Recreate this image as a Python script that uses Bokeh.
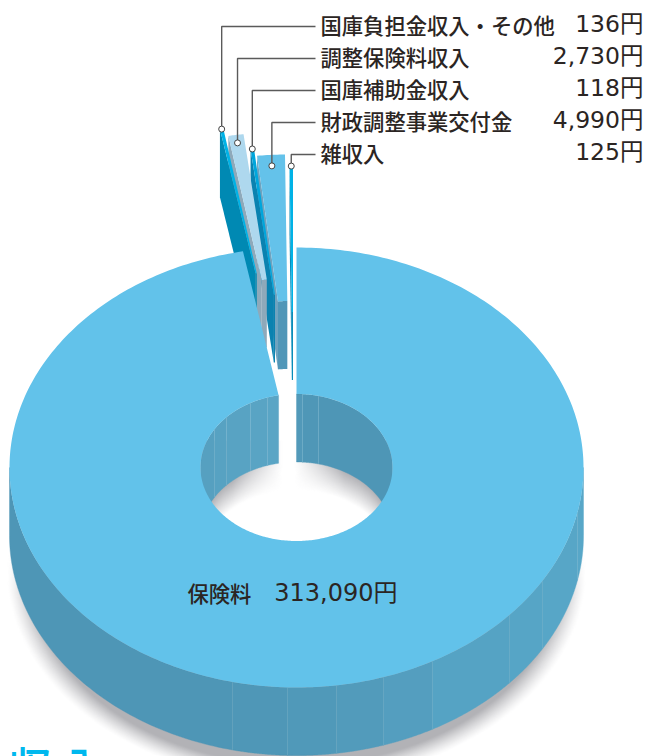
import numpy as np
from bokeh.plotting import figure
from bokeh.models import Range1d
from bokeh.embed import file_html
from bokeh.resources import INLINE
from bokeh.core.properties import value

# ---- data ----
main_name = "保険料"
main_value = 313090
main_label = "313,090円"
names = ["国庫負担金収入・その他", "調整保険料収入", "国庫補助金収入", "財政調整事業交付金", "雑収入"]
values = [136, 2730, 118, 4990, 125]
value_labels = ["136円", "2,730円", "118円", "4,990円", "125円"]
title_text = "収 入"

# ---- layout / style ----
W, H = 645, 756
CX, CY, RX, RY = 296.0, 467.0, 287.0, 220.0
IRX, IRY = 96.0, 73.5
DEPTH = 68.0
MIN_SPAN = 0.7
explode_dx = [-23, -18, -11, -8, -3.5]
explode_dy = [-122, -115, -100, -93, -82]
dot_frac = [0.0, 0.055, 0.0, 0.075, 0.004]
top_colors = ["#00b2e6", "#aed8ee", "#00a6dc", "#64c2ea", "#00b2e6"]
face_colors = ["#0089b3", "#8ea9ba", "#0a82b0", "#6fa3bf", "#0a8cb8"]
inner_colors = ["#0089b3", "#8ea9ba", "#0a82b0", "#5197b8", "#0a8cb8"]
TOP = "#62c2ea"
seams_outer = [232, 287, 336, 383, 432, 509, 542, 577]
colors_outer = ["#4e96b6", "#4f97b7", "#5099b9", "#529bbb", "#549ebf", "#55a3c4", "#56a5c6", "#57a6c7", "#58a7c8"]
seams_hole_l = [214, 226, 250, 267]
colors_hole_l = ["#56a0c0", "#57a2c2", "#58a3c3", "#59a4c4", "#5aa5c5"]
seams_hole_r = [302, 318]
colors_hole_r = ["#5299b9", "#4f97b7", "#4e96b6"]
LABEL_COLOR = "#2b2523"
JP = "Noto Sans CJK JP Medium, Noto Sans CJK JP"
NUM = "DejaVu Sans, Noto Sans CJK JP"

spans = [max(v / (main_value + sum(values)) * 360, MIN_SPAN) for v in values]
gap = sum(spans)


def pt(deg, rx, ry, dx=0.0, dy=0.0):
    a = np.radians(deg)
    return CX + dx + rx * np.sin(a), CY + dy - ry * np.cos(a)


p = figure(width=W, height=H, x_range=Range1d(0, W), y_range=Range1d(H, 0),
           toolbar_location=None, output_backend="svg", min_border=0)
p.xaxis.visible = False
p.yaxis.visible = False
p.xgrid.visible = False
p.ygrid.visible = False
p.outline_line_color = None
p.background_fill_color = "white"
p.border_fill_color = "white"

# soft shadows under the ring and on the floor of the hole
px, py = np.meshgrid(np.arange(W) + 0.5, np.arange(H) + 0.5)
e = np.sqrt(((px - CX) / RX) ** 2 + ((py - 570.0) / 210.0) ** 2)
a_out = np.clip((1.01 - e) / 0.085, 0, 1) ** 1.3 * np.clip((py - 540) / 50, 0, 1)
u = np.clip((px - CX) / IRX, -1, 1)
upper = CY - IRY * np.sqrt(1 - u ** 2)
s = py - upper
h = np.clip((np.abs(px - 288) - 6) / 50, 0, 1)
a_in = np.clip(1 - (s - DEPTH) / 28.5, 0, 1) * h * (np.abs(px - CX) < IRX) * (py > 440) * (py < 560)
alpha = np.maximum(a_out, a_in)
img = np.zeros((H, W, 4), dtype=np.uint8)
img[..., 0] = 178
img[..., 1] = 178
img[..., 2] = 182
img[..., 3] = (alpha * 255).astype(np.uint8)
view = img[..., 0].astype(np.uint32) | img[..., 1].astype(np.uint32) << 8 | img[..., 2].astype(np.uint32) << 16 | img[..., 3].astype(np.uint32) << 24
p.image_rgba(image=[view], x=0, y=0, dw=W, dh=H)


def wall_strip(x0, x1, rx, ry, sign, n=40):
    """Curved strip of a ring wall between two x positions; sign=+1 front half, -1 back half."""
    t0, t1 = np.arcsin(np.clip((np.array([x0, x1]) - CX) / rx, -1, 1))
    t = np.linspace(t0, t1, n)
    xx = CX + rx * np.sin(t)
    yy = CY + sign * ry * np.cos(t)
    return list(xx) + list(xx[::-1]), list(yy) + list((yy + DEPTH)[::-1])


# inner wall of the hole
main_end_x = CX + IRX * np.sin(np.radians(-gap))
xs, ys, cs = [], [], []
edges = [CX - IRX] + seams_hole_l + [main_end_x]
for a, b, c in zip(edges[:-1], edges[1:], colors_hole_l):
    X, Y = wall_strip(a, b, IRX, IRY, -1)
    xs.append(X); ys.append(Y); cs.append(c)
edges = [CX] + seams_hole_r + [CX + IRX]
for a, b, c in zip(edges[:-1], edges[1:], colors_hole_r):
    X, Y = wall_strip(a, b, IRX, IRY, -1)
    xs.append(X); ys.append(Y); cs.append(c)
p.patches(xs, ys, fill_color=cs, line_color=cs, line_width=0.4)
for sx in seams_hole_l + seams_hole_r:
    y0 = CY - IRY * np.sqrt(1 - ((sx - CX) / IRX) ** 2)
    p.line([sx, sx], [y0, y0 + DEPTH], line_color="#8fc3da", line_width=0.7, line_alpha=0.45)

# outer wall
xs, ys, cs = [], [], []
edges = [CX - RX] + seams_outer + [CX + RX]
for a, b, c in zip(edges[:-1], edges[1:], colors_outer):
    X, Y = wall_strip(a, b, RX, RY, 1, n=80)
    xs.append(X); ys.append(Y); cs.append(c)
p.patches(xs, ys, fill_color=cs, line_color=cs, line_width=0.4)
for sx in seams_outer:
    y0 = CY + RY * np.sqrt(1 - ((sx - CX) / RX) ** 2)
    p.line([sx, sx], [y0, y0 + DEPTH], line_color="#86bcd3", line_width=0.7, line_alpha=0.35)

# exploded slices, cumulative angles from the values, painted right to left
ends = [-gap + sum(spans[: i + 1]) for i in range(len(spans))]
starts = [e_ - s_ for e_, s_ in zip(ends, spans)]
dots = []
for i in reversed(range(len(values))):
    a0, a1, dx, dy = starts[i], ends[i], explode_dx[i], explode_dy[i]
    arc = np.linspace(a0, a1, 12)
    ox, oy = pt(arc, RX, RY, dx, dy)
    ix, iy = pt(arc, IRX, IRY, dx, dy)
    # radial face on the left
    fx = [ox[0], ix[0], ix[0], ox[0]]
    fy = [oy[0], iy[0], iy[0] + DEPTH, oy[0] + DEPTH]
    p.patch(fx, fy, fill_color=face_colors[i], line_color=None)
    # inner wall
    p.patch(list(ix) + list(ix[::-1]), list(iy) + list((iy + DEPTH)[::-1]),
            fill_color=inner_colors[i], line_color=None)
    # top
    p.patch(list(ox) + list(ix[::-1]), list(oy) + list(iy[::-1]),
            fill_color=top_colors[i], line_color=None)

for i in range(len(values)):
    m = (starts[i] + ends[i]) / 2
    ox, oy = pt(m, RX, RY, explode_dx[i], explode_dy[i])
    ix, iy = pt(m, IRX, IRY, explode_dx[i], explode_dy[i])
    f = dot_frac[i]
    dots.append((ox + (ix - ox) * f, oy + (iy - oy) * f))

# main top surface
arc = np.linspace(0, 360 - gap, 360)
ox, oy = pt(arc, RX, RY)
ix, iy = pt(arc, IRX, IRY)
p.patch(list(ox) + list(ix[::-1]), list(oy) + list(iy[::-1]), fill_color=TOP, line_color=None)

# leader lines and dots, labels
row_y = [26 + 32 * i for i in range(len(names))]
for (dx_, dy_), ry_ in zip(dots, row_y):
    p.line([315, dx_, dx_], [ry_, ry_, dy_], line_color="#5a5a5a", line_width=1.4)
p.scatter([d[0] for d in dots], [d[1] for d in dots], size=6, marker="circle",
          fill_color="white", line_color="#444444", line_width=1)

text_y = [y - 2.5 for y in row_y]
p.text([320] * len(names), text_y, text=names, text_font=value(JP), text_font_size="21.3px",
       text_color=LABEL_COLOR, text_baseline="middle", text_align="left")
p.text([643] * len(names), text_y, text=value_labels, text_font=value(NUM), text_font_size="23.5px",
       text_color=LABEL_COLOR, text_baseline="middle", text_align="right")
p.text([187], [592], text=[main_name], text_font=value(JP), text_font_size="21.3px",
       text_color=LABEL_COLOR, text_baseline="middle", text_align="left")
p.text([397], [592], text=[main_label], text_font=value(NUM), text_font_size="24px",
       text_color=LABEL_COLOR, text_baseline="middle", text_align="right")
p.text([7], [733], text=[title_text], text_font=value(JP), text_font_size="44px",
       text_font_style="bold", text_color="#00b8ee", text_baseline="top", text_align="left")

open("out.html", "w").write(file_html(p, INLINE))
